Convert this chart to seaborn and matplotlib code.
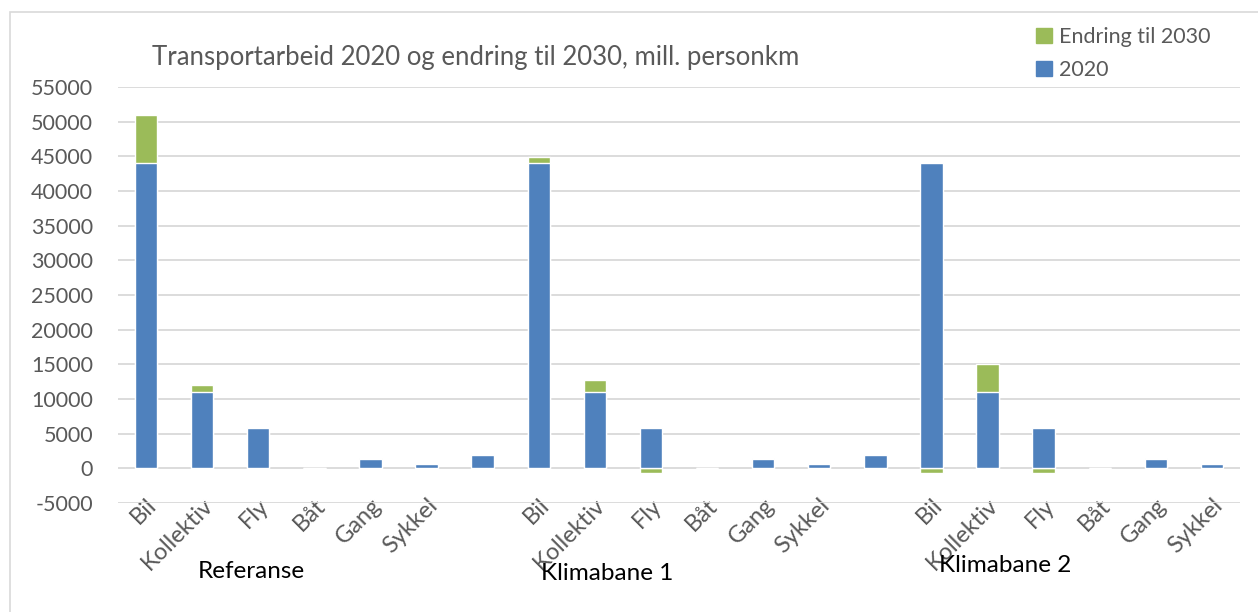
import numpy as np
import pandas as pd
import matplotlib
matplotlib.use("Agg")
import matplotlib.pyplot as plt
import seaborn as sns
from matplotlib.patches import Patch, Rectangle

GROUPS = ["Referanse", "Klimabane 1", "Klimabane 2"]
MODES = ["Bil", "Kollektiv", "Fly", "Båt", "Gang", "Sykkel", ""]

# values in mill. personkm (last "" slot = unlabelled bar between groups)
BASE_2020 = {
    "Referanse":   [44000, 11000, 5800, 100, 1400, 600, 1900],
    "Klimabane 1": [44000, 11000, 5800, 100, 1400, 600, 1900],
    "Klimabane 2": [44000, 11000, 5800, 100, 1400, 600],
}
CHANGE_2030 = {
    "Referanse":   [6900, 1000, 150, 0, 100, 0, 0],
    "Klimabane 1": [900, 1700, -700, 0, 100, 100, 0],
    "Klimabane 2": [-700, 4100, -700, 0, 100, 0],
}

BLUE = "#4F81BD"
GREEN = "#9BBB59"
GRID = "#D9D9D9"
TEXT = "#595959"

rows = []
for g in GROUPS:
    for m, b, c in zip(MODES, BASE_2020[g], CHANGE_2030[g]):
        rows.append({"key": f"{g}|{m}", "label": m, "base": b, "change": c})
df = pd.DataFrame(rows)
# Excel-style stacking: positive change sits on top of 2020, negative goes below zero
df["green_top"] = np.where(df["change"] > 0, df["base"] + df["change"], df["change"])

sns.set_theme(style="white")
plt.rcParams["font.family"] = ["Lato", "DejaVu Sans"]
plt.rcParams["axes.unicode_minus"] = False

fig = plt.figure(figsize=(12.58, 6.12), dpi=100)
ax = fig.add_axes([118 / 1258, 1 - 503 / 612, 1122 / 1258, (503 - 87) / 612])

order = df["key"].tolist()
sns.barplot(data=df, x="key", y="green_top", order=order, color=GREEN,
            width=0.4, saturation=1, ax=ax, errorbar=None)
sns.barplot(data=df, x="key", y="base", order=order, color=BLUE,
            width=0.4, saturation=1, ax=ax, errorbar=None)

ax.set_ylim(-5000, 55000)
ax.set_yticks(np.arange(-5000, 55001, 5000))
ax.yaxis.grid(True, color=GRID, lw=1.3)
ax.set_axisbelow(True)
for s in ax.spines.values():
    s.set_visible(False)
ax.set_xlabel("")
ax.set_ylabel("")
ax.set_xticks(range(len(df)))
ax.set_xticklabels(df["label"], rotation=45, ha="right", rotation_mode="anchor",
                   fontsize=17, color=TEXT)
ax.tick_params(axis="x", length=0, pad=-6)
ax.tick_params(axis="y", length=0, labelsize=15.5, labelcolor=TEXT, pad=18)
ax.set_xlim(-0.5, len(df) - 0.5)

fig.text(152 / 1258, 1 - 58 / 612, "Transportarbeid 2020 og endring til 2030, mill. personkm",
         fontsize=18.5, color=TEXT, va="center", ha="left")

for name, (x, y) in zip(GROUPS, [(251, 572), (607, 573), (1005, 565)]):
    fig.text(x / 1258, 1 - y / 612, name, fontsize=17.5, color="black", ha="center", va="center")

handles = [Patch(color=GREEN, label="Endring til 2030"), Patch(color=BLUE, label="2020")]
fig.legend(handles=handles, loc="upper left", bbox_to_anchor=(1036 / 1258, 1 - 27 / 612),
           frameon=False, fontsize=15.5, labelcolor=TEXT, handlelength=0.75, handleheight=0.75,
           handletextpad=0.3, labelspacing=0.6, borderpad=0, borderaxespad=0)

fig.patches.append(Rectangle((10 / 1258, -0.01), 1.0, 1 - 12 / 612 + 0.01,
                             transform=fig.transFigure, fill=False, edgecolor=GRID, lw=1.2))

fig.savefig("out.png", dpi=100)
